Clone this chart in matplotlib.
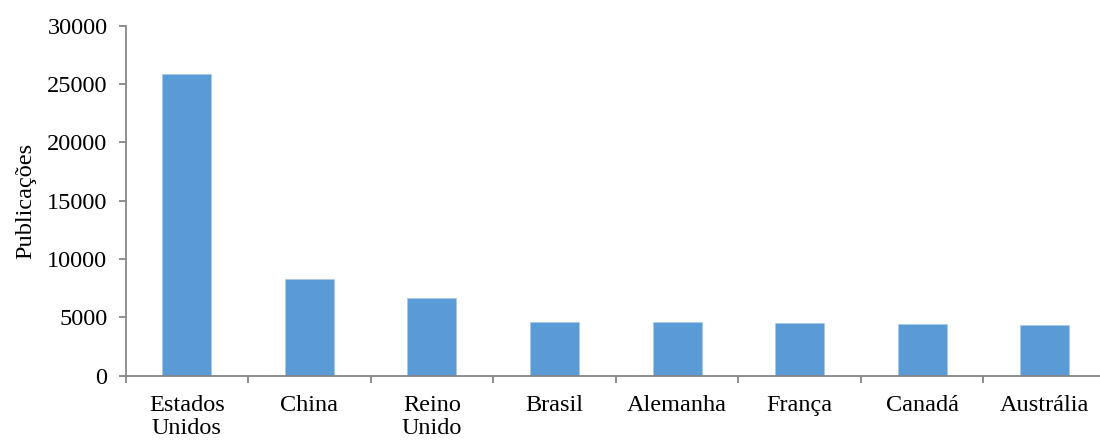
import numpy as np
import matplotlib
matplotlib.use('Agg')
import matplotlib.pyplot as plt

paises = ['Estados\nUnidos', 'China', 'Reino\nUnido', 'Brasil',
          'Alemanha', 'França', 'Canadá', 'Austrália']
publicacoes = [25850, 8250, 6650, 4600, 4600, 4490, 4430, 4320]
yticks = [0, 5000, 10000, 15000, 20000, 25000, 30000]

# look of the chart (excel-like)
plt.rcParams['font.family'] = ['Liberation Serif', 'DejaVu Serif']
plt.rcParams['font.size'] = 17.5

fig = plt.figure(figsize=(11, 4.44), dpi=100)
ax = fig.add_axes([0.1141, 0.1538, 0.8914, 0.7883])

x = np.arange(len(paises))
ax.bar(x, publicacoes, width=0.4, color='#5B9BD5', edgecolor='#A9C9EA',
       linewidth=0.6, zorder=2)

ax.set_xlim(-0.5, len(paises) - 0.5)
ax.set_ylim(0, 30000)
ax.set_yticks(yticks)
ax.set_yticklabels([str(v) for v in yticks])

# ticks between the bars, labels under the bars
ax.set_xticks(np.arange(len(paises) + 1) - 0.5)
ax.set_xticklabels([])
ax.set_xticks(x, minor=True)
ax.set_xticklabels(paises, minor=True, linespacing=1.1)
ax.tick_params(axis='x', which='major', length=5, width=1.3, color='#868686',
               direction='out')
ax.tick_params(axis='x', which='minor', length=0, pad=14)
ax.tick_params(axis='y', length=5, width=1.3, color='#868686',
               direction='out', pad=8)

for s in ['top', 'right']:
    ax.spines[s].set_visible(False)
for s in ['left', 'bottom']:
    ax.spines[s].set_color('#868686')
    ax.spines[s].set_linewidth(1.3)

ax.set_ylabel('Publicações', labelpad=8)

plt.savefig('out.png', dpi=100)
